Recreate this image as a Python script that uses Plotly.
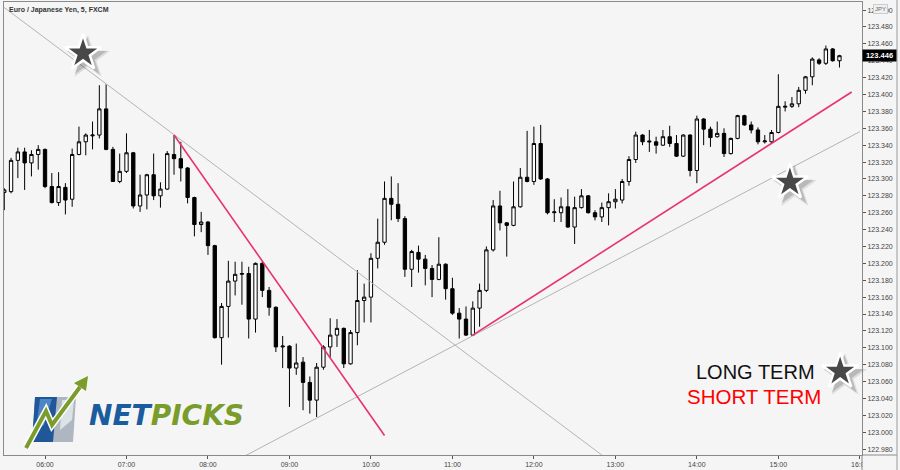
import plotly.graph_objects as go
import pandas as pd

# ---------------- data (EUR/JPY, 5-minute bars) ----------------
start_time = "2019-03-07 05:30"
open_ = [123.284, 123.285, 123.322, 123.332, 123.319, 123.329, 123.335, 123.291, 123.272, 123.290,
         123.276, 123.329, 123.344, 123.351, 123.352, 123.383, 123.335, 123.297, 123.309, 123.331,
         123.268, 123.281, 123.305, 123.280, 123.288, 123.329, 123.324, 123.313, 123.278, 123.246,
         123.249, 123.221, 123.112, 123.149, 123.179, 123.187, 123.188, 123.134, 123.200, 123.168,
         123.148, 123.101, 123.102, 123.076, 123.083, 123.059, 123.038, 123.077, 123.101, 123.115,
         123.123, 123.081, 123.118, 123.156, 123.160, 123.206, 123.225, 123.277, 123.270, 123.253,
         123.193, 123.213, 123.205, 123.194, 123.181, 123.199, 123.170, 123.141, 123.134, 123.115,
         123.147, 123.168, 123.216, 123.268, 123.248, 123.245, 123.267, 123.302, 123.297, 123.342,
         123.300, 123.260, 123.260, 123.267, 123.243, 123.266, 123.280, 123.260, 123.255, 123.266,
         123.273, 123.275, 123.297, 123.323, 123.352, 123.345, 123.344, 123.340, 123.350, 123.342,
         123.327, 123.352, 123.310, 123.371, 123.359, 123.350, 123.354, 123.330, 123.348, 123.375,
         123.364, 123.358, 123.344, 123.344, 123.355, 123.385, 123.386, 123.389, 123.405, 123.421,
         123.441, 123.437, 123.454, 123.440]
high = [123.289, 123.325, 123.337, 123.337, 123.334, 123.340, 123.336, 123.307, 123.308, 123.295,
        123.336, 123.362, 123.354, 123.368, 123.411, 123.412, 123.338, 123.330, 123.354, 123.332,
        123.305, 123.306, 123.330, 123.296, 123.333, 123.352, 123.344, 123.314, 123.279, 123.261,
        123.250, 123.222, 123.153, 123.203, 123.202, 123.202, 123.196, 123.201, 123.202, 123.172,
        123.149, 123.114, 123.103, 123.105, 123.089, 123.066, 123.082, 123.103, 123.135, 123.134,
        123.124, 123.121, 123.192, 123.176, 123.212, 123.253, 123.297, 123.303, 123.295, 123.256,
        123.216, 123.221, 123.210, 123.198, 123.231, 123.200, 123.183, 123.147, 123.149, 123.155,
        123.176, 123.220, 123.275, 123.286, 123.249, 123.297, 123.313, 123.357, 123.362, 123.364,
        123.301, 123.276, 123.278, 123.288, 123.279, 123.288, 123.281, 123.263, 123.272, 123.283,
        123.288, 123.300, 123.327, 123.356, 123.353, 123.358, 123.350, 123.358, 123.363, 123.352,
        123.353, 123.353, 123.375, 123.372, 123.362, 123.368, 123.360, 123.349, 123.376, 123.376,
        123.368, 123.361, 123.352, 123.358, 123.424, 123.392, 123.397, 123.409, 123.422, 123.444,
        123.443, 123.458, 123.455, 123.447]
low = [123.263, 123.283, 123.301, 123.287, 123.303, 123.311, 123.289, 123.271, 123.268, 123.258,
       123.267, 123.328, 123.328, 123.335, 123.348, 123.334, 123.297, 123.295, 123.307, 123.265,
       123.261, 123.264, 123.275, 123.266, 123.287, 123.305, 123.297, 123.271, 123.232, 123.237,
       123.210, 123.111, 123.080, 123.112, 123.162, 123.151, 123.111, 123.118, 123.160, 123.138,
       123.095, 123.076, 123.030, 123.068, 123.026, 123.022, 123.018, 123.074, 123.089, 123.101,
       123.076, 123.080, 123.103, 123.130, 123.130, 123.194, 123.222, 123.251, 123.249, 123.184,
       123.172, 123.189, 123.174, 123.160, 123.180, 123.157, 123.139, 123.111, 123.114, 123.114,
       123.125, 123.166, 123.214, 123.239, 123.208, 123.244, 123.266, 123.296, 123.293, 123.299,
       123.258, 123.249, 123.249, 123.242, 123.223, 123.265, 123.259, 123.251, 123.249, 123.245,
       123.265, 123.271, 123.292, 123.319, 123.340, 123.332, 123.330, 123.339, 123.338, 123.326,
       123.326, 123.303, 123.295, 123.340, 123.338, 123.349, 123.326, 123.329, 123.347, 123.363,
       123.354, 123.341, 123.342, 123.342, 123.354, 123.380, 123.384, 123.385, 123.401, 123.411,
       123.435, 123.435, 123.439, 123.432]
close = [123.287, 123.322, 123.332, 123.319, 123.329, 123.335, 123.291, 123.272, 123.291, 123.275,
         123.329, 123.344, 123.352, 123.352, 123.383, 123.335, 123.297, 123.309, 123.331, 123.268,
         123.281, 123.305, 123.280, 123.288, 123.330, 123.324, 123.313, 123.278, 123.246, 123.249,
         123.221, 123.112, 123.149, 123.179, 123.187, 123.188, 123.134, 123.200, 123.168, 123.148,
         123.101, 123.102, 123.076, 123.082, 123.059, 123.038, 123.077, 123.101, 123.115, 123.123,
         123.081, 123.118, 123.156, 123.160, 123.206, 123.225, 123.277, 123.270, 123.253, 123.193,
         123.214, 123.205, 123.194, 123.181, 123.199, 123.170, 123.141, 123.134, 123.115, 123.147,
         123.168, 123.216, 123.268, 123.248, 123.245, 123.267, 123.302, 123.297, 123.342, 123.300,
         123.260, 123.261, 123.267, 123.243, 123.266, 123.280, 123.260, 123.255, 123.266, 123.273,
         123.276, 123.297, 123.323, 123.352, 123.344, 123.344, 123.340, 123.350, 123.342, 123.327,
         123.352, 123.310, 123.371, 123.359, 123.349, 123.354, 123.330, 123.348, 123.375, 123.364,
         123.358, 123.344, 123.345, 123.355, 123.386, 123.386, 123.389, 123.405, 123.421, 123.442,
         123.437, 123.454, 123.440, 123.446]

last_price = 123.446
y_ticks = [round(122.98 + 0.02 * i, 3) for i in range(27)]
x_tick_labels = ["06:00", "07:00", "08:00", "09:00", "10:00", "11:00",
                 "12:00", "13:00", "14:00", "15:00", "16:00"]

# trend lines: (times, prices)
long_down_t = ["2019-03-07 05:30:00", "2019-03-07 12:50:00"]
long_down_p = [123.503, 122.973]
long_up_t = ["2019-03-07 08:25:00", "2019-03-07 16:00:00"]
long_up_p = [122.970, 123.356]
short_down_t = ["2019-03-07 07:35:00", "2019-03-07 10:10:00"]
short_down_p = [123.352, 122.996]
short_up_t = ["2019-03-07 11:15:00", "2019-03-07 15:54:00"]
short_up_p = [123.115, 123.403]

star_t = ["2019-03-07 06:28:00", "2019-03-07 15:08:30", "2019-03-07 15:45:30"]
star_p = [123.449, 123.296, 123.072]

# ---------------- layout geometry ----------------
W, H = 900, 470
ML, MR, MT, MB = 4, 38, 2, 15
x_range = [pd.Timestamp("2019-03-07 05:29:48"), pd.Timestamp("2019-03-07 16:01:36")]
y_range = [122.973, 123.5096]
PW, PH = W - ML - MR, H - MT - MB


def px(x):
    return (x - ML) / PW


def py(y):
    return (H - MB - y) / PH


times = pd.date_range(start_time, periods=len(open_), freq="5min")
BG = "#f5f5f6"

fig = go.Figure()
fig.add_trace(go.Candlestick(
    x=times, open=open_, high=high, low=low, close=close,
    increasing=dict(line=dict(color="#000000", width=1), fillcolor="#ffffff"),
    decreasing=dict(line=dict(color="#000000", width=1), fillcolor="#000000"),
    whiskerwidth=0, hoverinfo="skip", showlegend=False))

for t, p, col, w in [(long_down_t, long_down_p, "#b4b4b4", 1),
                     (long_up_t, long_up_p, "#b4b4b4", 1),
                     (short_down_t, short_down_p, "#e8336c", 1.6),
                     (short_up_t, short_up_p, "#e8336c", 1.6)]:
    fig.add_trace(go.Scatter(x=pd.to_datetime(t), y=p, mode="lines",
                             line=dict(color=col, width=w),
                             hoverinfo="skip", showlegend=False))

# stars with soft shadow
ms_per_px = (x_range[1] - x_range[0]) / pd.Timedelta(milliseconds=1) / PW
price_per_px = (y_range[1] - y_range[0]) / PH
st = pd.to_datetime(star_t)
for off, size, alpha in [(5, 33, 0.10), (4, 30, 0.16)]:
    fig.add_trace(go.Scatter(x=st + pd.Timedelta(milliseconds=off * ms_per_px),
                             y=[p - off * price_per_px for p in star_p], mode="markers",
                             marker=dict(symbol="star", size=size, color="rgba(0,0,0,%.2f)" % alpha,
                                         line=dict(width=0)),
                             hoverinfo="skip", showlegend=False, cliponaxis=False))
fig.add_trace(go.Scatter(x=st, y=star_p, mode="markers",
                         marker=dict(symbol="star", size=27, color="#484848",
                                     line=dict(color="#ffffff", width=2.5)),
                         hoverinfo="skip", showlegend=False, cliponaxis=False))

shapes = []
# clip the 16:00 label under the price scale
shapes.append(dict(type="rect", xref="paper", yref="paper", layer="above",
                   x0=px(862.6), x1=px(897), y0=py(456), y1=py(470),
                   fillcolor=BG, line=dict(width=0)))
shapes.append(dict(type="line", xref="paper", yref="paper", layer="above",
                   x0=1, x1=px(897), y0=0, y1=0, line=dict(color="#8a8a8a", width=1)))
shapes.append(dict(type="line", xref="paper", yref="paper", layer="above",
                   x0=1, x1=1, y0=py(470), y1=0, line=dict(color="#8a8a8a", width=1)))
shapes.append(dict(type="line", xref="paper", yref="paper", layer="above",
                   x0=px(897), x1=px(897), y0=py(470), y1=py(0), line=dict(color="#9a9a9a", width=1)))


def poly(pts):
    s = "M " + " L ".join(f"{px(a):.5f},{py(b):.5f}" for a, b in pts) + " Z"
    return s


def pline(pts):
    return "M " + " L ".join(f"{px(a):.5f},{py(b):.5f}" for a, b in pts)


# logo icon
shapes.append(dict(type="path", xref="paper", yref="paper", layer="above",
                   path=poly([(35, 397), (76, 397), (73, 442), (32, 442)]),
                   fillcolor="#aeb7c1", line=dict(width=0)))
shapes.append(dict(type="path", xref="paper", yref="paper", layer="above",
                   path=poly([(35, 397), (57, 397), (53, 442), (32, 442)]),
                   fillcolor="#1f5799", line=dict(width=0)))
shapes.append(dict(type="path", xref="paper", yref="paper", layer="above",
                   path=poly([(40, 399), (52, 399), (44, 425), (36, 430)]),
                   fillcolor="#4f86c6", line=dict(width=0)))
shapes.append(dict(type="path", xref="paper", yref="paper", layer="above",
                   path=poly([(62, 400), (74, 400), (72, 420), (60, 430)]),
                   fillcolor="#dde2e7", line=dict(width=0)))
shapes.append(dict(type="path", xref="paper", yref="paper", layer="above",
                   path=pline([(26, 448), (46, 411), (52, 425), (80, 387)]),
                   line=dict(color="#ffffff", width=7)))
shapes.append(dict(type="path", xref="paper", yref="paper", layer="above",
                   path=pline([(26, 448), (46, 411), (52, 425), (80, 387)]),
                   line=dict(color="#7a9c2a", width=4)))
shapes.append(dict(type="path", xref="paper", yref="paper", layer="above",
                   path=poly([(88, 376), (86, 391), (74, 383)]),
                   fillcolor="#7a9c2a", line=dict(width=0)))

annotations = [
    dict(xref="paper", yref="paper", x=px(7), y=py(10), xanchor="left", yanchor="middle",
         text="<b>Euro / Japanese Yen, 5, FXCM</b>", showarrow=False,
         font=dict(family="Liberation Sans", size=7, color="#333333")),
    dict(xref="paper", yref="paper", x=px(87), y=py(415), xanchor="left", yanchor="middle",
         text="<b><i><span style='color:#1b5c9e'>NET</span><span style='color:#7a9c2a'>PICKS</span></i></b>",
         showarrow=False, font=dict(family="DejaVu Sans", size=28)),
    dict(xref="paper", yref="paper", x=px(755), y=py(372), xanchor="center", yanchor="middle",
         text="LONG TERM", showarrow=False,
         font=dict(family="Liberation Sans", size=20, color="#111111")),
    dict(xref="paper", yref="paper", x=px(754), y=py(396), xanchor="center", yanchor="middle",
         text="SHORT TERM", showarrow=False,
         font=dict(family="Liberation Sans", size=20.5, color="#ff0000")),
    dict(xref="paper", yref="paper", x=px(880), y=py(9), xanchor="center", yanchor="middle",
         text="JPY", showarrow=False, bgcolor="#f0f0f0", bordercolor="#cccccc", borderwidth=1,
         borderpad=1, font=dict(family="Liberation Sans", size=6, color="#666666")),
    dict(xref="paper", yref="y", x=1, y=last_price, xanchor="left", yanchor="middle",
         text="<b>%.3f</b>" % last_price, showarrow=False, bgcolor="#000000", width=31,
         borderpad=1, font=dict(family="Liberation Sans", size=7.5, color="#ffffff")),
]

tick_times = pd.date_range("2019-03-07 06:00", periods=len(x_tick_labels), freq="60min")

fig.update_layout(
    width=W, height=H,
    margin=dict(l=ML, r=MR, t=MT, b=MB, autoexpand=False),
    paper_bgcolor=BG, plot_bgcolor=BG,
    showlegend=False,
    shapes=shapes, annotations=annotations,
    xaxis=dict(range=x_range, rangeslider=dict(visible=False), showgrid=False, zeroline=False,
               tickvals=tick_times, ticktext=x_tick_labels, ticks="outside", ticklen=3,
               tickcolor="#555555", showline=True, linecolor="#8a8a8a", mirror=True,
               tickfont=dict(family="Liberation Sans", size=7, color="#444444")),
    yaxis=dict(range=y_range, side="right", showgrid=False, zeroline=False,
               tickvals=y_ticks, ticktext=["%.3f" % v for v in y_ticks],
               ticks="outside", ticklen=3, tickcolor="#555555",
               showline=True, linecolor="#8a8a8a", mirror=True,
               tickfont=dict(family="Liberation Sans", size=7, color="#444444")),
)

fig.write_html("out.html", config={"displayModeBar": False},
               post_script="document.body.style.margin='0px';document.body.style.background='%s';" % BG)
